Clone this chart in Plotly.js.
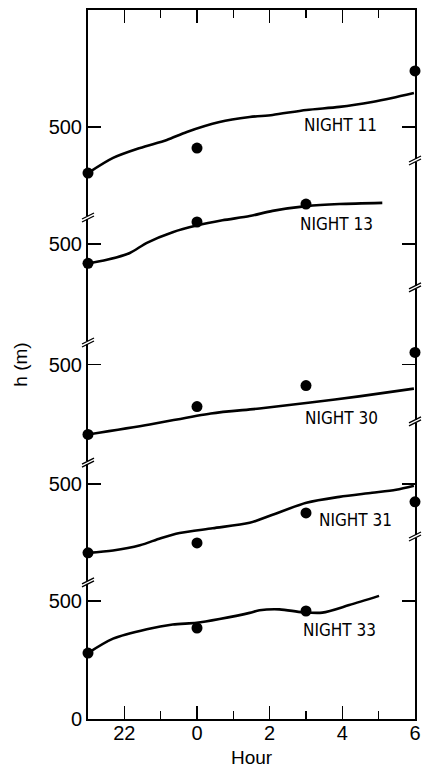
<!DOCTYPE html>
<html>
<head>
<meta charset="utf-8">
<script src="https://cdn.plot.ly/plotly-3.0.1.min.js"></script>
<style>html,body{margin:0;padding:0;background:#fff;}#chart{width:422px;height:770px;}</style>
</head>
<body>
<div id="chart"></div>
<script>
// ---- Data (clock hours; values in metres) ----
const nightNames = ['NIGHT 11', 'NIGHT 13', 'NIGHT 30', 'NIGHT 31', 'NIGHT 33'];

const curveHourN11 = [21, 21.69, 22.43, 23.17, 23.72, 0.62, 1.45, 2.08, 3.01, 3.92, 4.82, 5.37, 5.97];
const curveHN11    = [305, 369, 411, 445, 479, 521, 542, 551, 572, 585, 606, 623, 644];

const curveHourN13 = [21, 21.52, 22.15, 22.62, 23.33, 23.99, 0.70, 1.45, 2.08, 3.01, 3.92, 5.10];
const curveHN13    = [418, 433, 462, 505, 550, 578, 600, 618, 640, 660, 669, 674];

const curveHourN30 = [21, 22.70, 0.38, 1.72, 3.12, 4.46, 5.97];
const curveHN30    = [204, 246, 293, 314, 339, 365, 398];

const curveHourN31 = [21, 21.69, 22.43, 23.00, 23.52, 0.43, 1.45, 2.08, 3.01, 3.92, 4.82, 5.48, 5.97];
const curveHN31    = [208, 218, 240, 270, 292, 312, 335, 369, 420, 445, 462, 475, 492];

const curveHourN33 = [21, 21.69, 22.62, 23.33, 23.99, 0.62, 1.45, 1.72, 2.27, 2.90, 3.45, 4.19, 5.01];
const curveHN33    = [279, 340, 380, 400, 407, 423, 449, 460, 464, 452, 450, 482, 521];

const dotHours = [21, 0, 3, 6];
const dotN11 = [305, 411, null, 737];
const dotN13 = [418, 593, 669, null];
const dotN30 = [204, 322, 411, 551];
const dotN31 = [208, 250, 377, 424];
const dotN33 = [279, 385, 457, null];

const xTickVals = [22, 0, 2, 4, 6];
const yTickLabels = ['0', '500', '500', '500', '500', '500'];

// ---- Layout helpers (positions, not data) ----
const panelOffset = [2005, 1510, 1000, 495, 0];   // vertical stacking of nights
const labelPos = [[27.94, 2512], [27.83, 2095], [27.97, 1274], [28.35, 842], [27.92, 377]];
const leftBreaks = [2120, 1591, 1083, 576];
const rightBreaks = [2361, 1824, 1257, 770];

const toAxisHour = h => (h < 12 ? h + 24 : h);

const curves = [
  [curveHourN11, curveHN11], [curveHourN13, curveHN13], [curveHourN30, curveHN30],
  [curveHourN31, curveHN31], [curveHourN33, curveHN33]
];
const dots = [dotN11, dotN13, dotN30, dotN31, dotN33];

const traces = [];
curves.forEach((c, i) => {
  traces.push({
    x: c[0].map(toAxisHour),
    y: c[1].map(v => v + panelOffset[i]),
    mode: 'lines', type: 'scatter', cliponaxis: false,
    line: {color: '#000', width: 2.6, shape: 'spline', smoothing: 0.8},
    hoverinfo: 'skip', showlegend: false
  });
});
dots.forEach((d, i) => {
  const xs = [], ys = [];
  d.forEach((v, j) => { if (v !== null) { xs.push(toAxisHour(dotHours[j])); ys.push(v + panelOffset[i]); } });
  traces.push({
    x: xs, y: ys, mode: 'markers', type: 'scatter', cliponaxis: false,
    marker: {color: '#000', size: 11},
    hoverinfo: 'skip', showlegend: false
  });
});
// invisible trace so the top axis is drawn
traces.push({x: [21, 30], y: [0, 0], xaxis: 'x2', yaxis: 'y', mode: 'markers',
  marker: {opacity: 0}, hoverinfo: 'skip', showlegend: false});

const yTickVals = [0].concat(panelOffset.slice().reverse().map(o => 500 + o));

const shapes = [];
function addBreak(xpaper, yv) {
  shapes.push({type: 'rect', xref: 'paper', yref: 'y', xsizemode: 'pixel', ysizemode: 'pixel',
    xanchor: xpaper, yanchor: yv, x0: -2, x1: 2, y0: -1, y1: 2,
    fillcolor: '#fff', line: {width: 0}, layer: 'above'});
  shapes.push({type: 'line', xref: 'paper', yref: 'y', xsizemode: 'pixel', ysizemode: 'pixel',
    xanchor: xpaper, yanchor: yv, x0: -6, x1: 6, y0: -4, y1: 2,
    line: {color: '#000', width: 1.3}, layer: 'above'});
  shapes.push({type: 'line', xref: 'paper', yref: 'y', xsizemode: 'pixel', ysizemode: 'pixel',
    xanchor: xpaper, yanchor: yv, x0: -6, x1: 6, y0: -1, y1: 5,
    line: {color: '#000', width: 1.3}, layer: 'above'});
}
leftBreaks.forEach(v => addBreak(0, v));
rightBreaks.forEach(v => addBreak(1, v));

const annotations = nightNames.map((n, i) => ({
  x: labelPos[i][0], y: labelPos[i][1], xref: 'x', yref: 'y', text: n, showarrow: false,
  font: {family: 'DejaVu Sans Condensed, Liberation Sans Narrow, Arial Narrow, sans-serif', size: 17, color: '#000'},
  xanchor: 'center', yanchor: 'middle'
}));

const layout = {
  width: 422, height: 770,
  margin: {l: 88, r: 7, t: 10, b: 51},
  paper_bgcolor: '#fff', plot_bgcolor: '#fff',
  font: {family: 'Liberation Sans, Arial, sans-serif', size: 20, color: '#000'},
  xaxis: {
    range: [21, 30], tickmode: 'array',
    tickvals: xTickVals.map(toAxisHour), ticktext: xTickVals.map(String),
    ticks: 'inside', ticklen: 13, tickwidth: 1.5, tickcolor: '#000',
    minor: {dtick: 1, tick0: 21, ticks: 'inside', ticklen: 8, tickwidth: 1.5, tickcolor: '#000'},
    showline: true, linecolor: '#000', linewidth: 2, mirror: true,
    showgrid: false, zeroline: false,
    title: {text: 'Hour', font: {size: 19}, standoff: 8},
    tickfont: {size: 20}, ticklabelstandoff: -5
  },
  xaxis2: {
    range: [21, 30], overlaying: 'x', side: 'top', anchor: 'y', tickmode: 'array',
    tickvals: xTickVals.map(toAxisHour), showticklabels: false,
    ticks: 'inside', ticklen: 13, tickwidth: 1.5, tickcolor: '#000',
    minor: {dtick: 1, tick0: 21, ticks: 'inside', ticklen: 8, tickwidth: 1.5, tickcolor: '#000'},
    showline: false, showgrid: false, zeroline: false
  },
  yaxis: {
    range: [0, 3000], tickmode: 'array', tickvals: yTickVals, ticktext: yTickLabels,
    ticks: 'inside', ticklen: 13, tickwidth: 1.5, tickcolor: '#000',
    showline: true, linecolor: '#000', linewidth: 2, mirror: 'ticks',
    showgrid: false, zeroline: false,
    title: {text: 'h (m)', font: {size: 19}, standoff: 16},
    tickfont: {size: 20}
  },
  shapes: shapes,
  annotations: annotations
};

Plotly.newPlot('chart', traces, layout, {displayModeBar: false, staticPlot: true});
</script>
</body>
</html>
